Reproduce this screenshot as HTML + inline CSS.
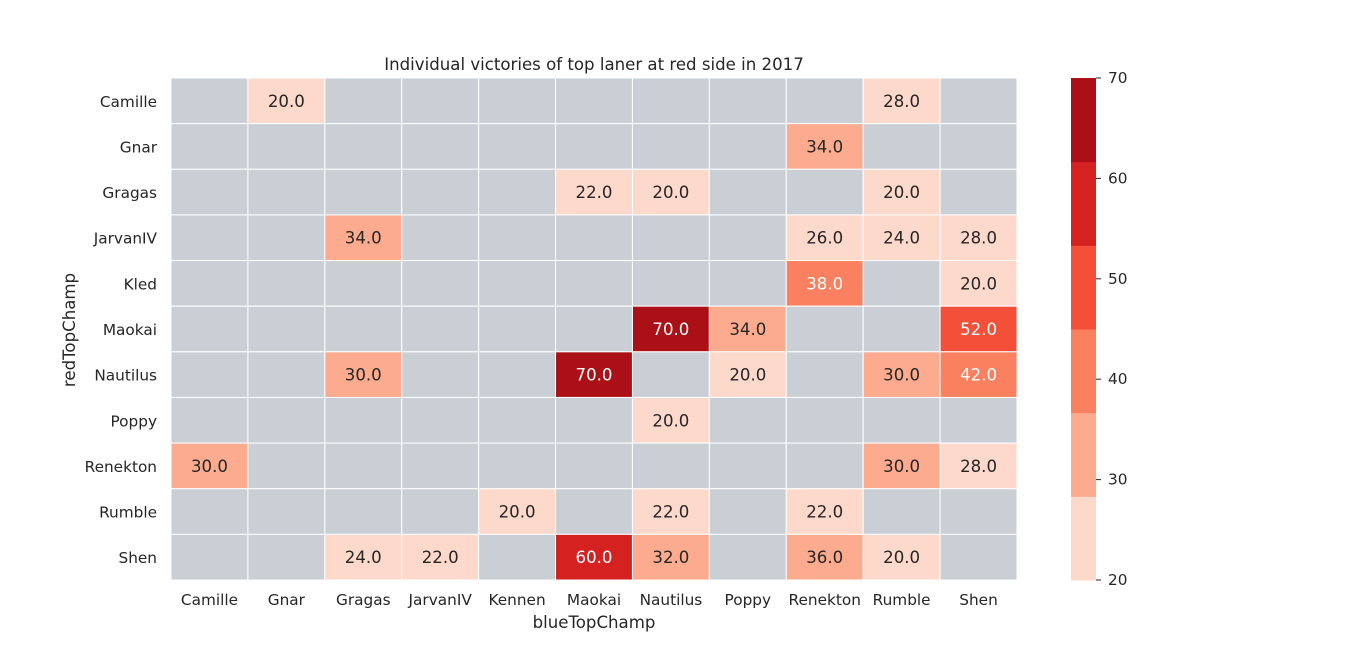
<!DOCTYPE html>
<html><head><meta charset="utf-8"><style>
body{margin:0;background:#fff;font-family:"Liberation Sans","DejaVu Sans",sans-serif;}
svg text{font-family:"DejaVu Sans","Liberation Sans",sans-serif;fill:#262626;}
</style></head><body>
<svg id="chart" width="1366" height="652" xmlns="http://www.w3.org/2000/svg">
<text x="594" y="70" text-anchor="middle" font-size="16.6">Individual victories of top laner at red side in 2017</text>
<text x="594" y="628" text-anchor="middle" font-size="16.6">blueTopChamp</text>
<text x="75" y="330" text-anchor="middle" font-size="16.6" transform="rotate(-90 75 330)">redTopChamp</text>
<g id="cells"></g>
<g id="cbar"></g>
</svg>
<script>
const cols = ["Camille","Gnar","Gragas","JarvanIV","Kennen","Maokai","Nautilus","Poppy","Renekton","Rumble","Shen"];
const rows = ["Camille","Gnar","Gragas","JarvanIV","Kled","Maokai","Nautilus","Poppy","Renekton","Rumble","Shen"];
const values = [
[null,20,null,null,null,null,null,null,null,28,null],
[null,null,null,null,null,null,null,null,34,null,null],
[null,null,null,null,null,22,20,null,null,20,null],
[null,null,34,null,null,null,null,null,26,24,28],
[null,null,null,null,null,null,null,null,38,null,20],
[null,null,null,null,null,null,70,34,null,null,52],
[null,null,30,null,null,70,null,20,null,30,42],
[null,null,null,null,null,null,20,null,null,null,null],
[30,null,null,null,null,null,null,null,null,30,28],
[null,null,null,null,20,null,22,null,22,null,null],
[null,null,24,22,null,60,32,null,36,20,null]];
const cbTicks = [20,30,40,50,60,70];
const palette = ["#fdd9cb","#fcab8e","#fb8060","#f44f39","#d52221","#aa1016"];
const vmin=20,vmax=70;
const X0=171,X1=1017,Y0=78,Y1=580;
const cw=(X1-X0)/cols.length, ch=(Y1-Y0)/rows.length;
const NS="http://www.w3.org/2000/svg";
function mk(t,a,p){const e=document.createElementNS(NS,t);for(const k in a)e.setAttribute(k,a[k]);p.appendChild(e);return e;}
function colorIdx(v){let i=Math.floor((v-vmin)/(vmax-vmin)*palette.length);return Math.max(0,Math.min(palette.length-1,i));}
const svg=document.getElementById('chart');
const g=document.getElementById('cells');
rows.forEach((r,i)=>{
  cols.forEach((c,j)=>{
    const v=values[i][j];
    const rect=mk('rect',{x:X0+j*cw,y:Y0+i*ch,width:cw,height:ch,fill:v==null?"#cacfd6":palette[colorIdx(v)],stroke:"#fff","stroke-width":1},g);
    
    
    if(v!=null){
      const t=mk('text',{x:X0+(j+.5)*cw,y:Y0+(i+.5)*ch+6,"text-anchor":"middle","font-size":16.6},g);
      t.textContent=v.toFixed(1);
      if(colorIdx(v)>=2)t.style.fill="#fff";
      
      
    }
  });
  const yl=mk('text',{x:157,y:Y0+(i+.5)*ch+6,"text-anchor":"end","font-size":15.3},svg);
  yl.textContent=r;
  
  
});
cols.forEach((c,j)=>{
  const xl=mk('text',{x:X0+(j+.5)*cw,y:605,"text-anchor":"middle","font-size":15.3},svg);
  xl.textContent=c;
  
  
});
const cb=document.getElementById('cbar');
const CX=1071,CW=25;
const cy=v=>Y1-(v-vmin)/(vmax-vmin)*(Y1-Y0);
palette.forEach((col,k)=>{
  const a=vmin+k*(vmax-vmin)/palette.length,b=vmin+(k+1)*(vmax-vmin)/palette.length;
  const r=mk('rect',{x:CX,y:cy(b),width:CW,height:cy(a)-cy(b)+0.5,fill:col},cb);
  
  
});
cbTicks.forEach(v=>{
  mk('line',{x1:CX+CW,x2:CX+CW+5,y1:cy(v),y2:cy(v),stroke:"#262626","stroke-width":1},cb);
  const t=mk('text',{x:CX+CW+12,y:cy(v)+5,"font-size":15.3},cb);
  t.textContent=v;
  
  
});
</script>
</body></html>
